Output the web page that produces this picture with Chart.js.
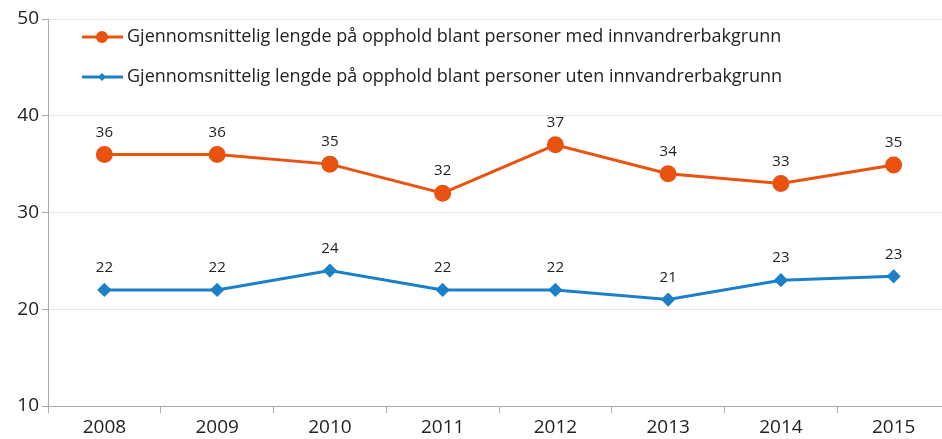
<!DOCTYPE html>
<html>
<head>
<meta charset="utf-8">
<script src="https://cdn.jsdelivr.net/npm/chart.js@4"></script>
<style>
  html, body { margin: 0; padding: 0; background: #fff; overflow: hidden; }
</style>
</head>
<body>
<canvas id="chart" width="960" height="439"></canvas>
<script>
const years = ["2008", "2009", "2010", "2011", "2012", "2013", "2014", "2015"];
const withBackground = [36, 36, 35, 32, 37, 34, 33, 34.9];
const withoutBackground = [22, 22, 24, 22, 22, 21, 23, 23.4];
const seriesNames = [
    "Gjennomsnittelig lengde på opphold blant personer med innvandrerbakgrunn",
    "Gjennomsnittelig lengde på opphold blant personer uten innvandrerbakgrunn"
];
const yTicks = [10, 20, 30, 40, 50];

const FONT = "'Open Sans', 'DejaVu Sans', sans-serif";

// value labels above each point
const pointLabels = {
    id: 'pointLabels',
    afterDatasetsDraw(chart) {
        const ctx = chart.ctx;
        ctx.save();
        ctx.font = "15px " + FONT;
        ctx.fillStyle = '#222';
        ctx.textAlign = 'center';
        ctx.textBaseline = 'middle';
        chart.data.datasets.forEach((ds, i) => {
            chart.getDatasetMeta(i).data.forEach((pt, j) => {
                ctx.fillText(Math.round(ds.data[j]), pt.x, pt.y - 22);
            });
        });
        ctx.restore();
    }
};

// legend drawn inside the plot area, top left
const innerLegend = {
    id: 'innerLegend',
    afterDraw(chart) {
        const ctx = chart.ctx;
        ctx.save();
        chart.data.datasets.forEach((ds, i) => {
            const y = 37 + i * 40;
            ctx.strokeStyle = ds.borderColor;
            ctx.lineWidth = 3;
            ctx.beginPath();
            ctx.moveTo(82, y);
            ctx.lineTo(123, y);
            ctx.stroke();
            ctx.fillStyle = ds.borderColor;
            if (i === 0) {
                ctx.beginPath();
                ctx.arc(102, y, 6, 0, Math.PI * 2);
                ctx.fill();
            } else {
                ctx.beginPath();
                ctx.moveTo(102, y - 4);
                ctx.lineTo(106, y);
                ctx.lineTo(102, y + 4);
                ctx.lineTo(98, y);
                ctx.closePath();
                ctx.fill();
            }
            ctx.fillStyle = '#222';
            ctx.font = "18px " + FONT;
            ctx.textAlign = 'left';
            ctx.textBaseline = 'middle';
            ctx.fillText(ds.label, 127, y);
        });
        ctx.restore();
    }
};

new Chart(document.getElementById('chart'), {
    type: 'line',
    data: {
        labels: years,
        datasets: [
            {
                label: seriesNames[0],
                data: withBackground,
                borderColor: '#e9520f',
                backgroundColor: '#e9520f',
                borderWidth: 3,
                pointStyle: 'circle',
                pointRadius: 7,
                pointHoverRadius: 7
            },
            {
                label: seriesNames[1],
                data: withoutBackground,
                borderColor: '#1b80c8',
                backgroundColor: '#1b80c8',
                borderWidth: 3,
                pointStyle: 'rectRot',
                pointRadius: 5,
                pointHoverRadius: 5
            }
        ]
    },
    options: {
        responsive: false,
        animation: false,
        layout: { padding: { top: 19, right: 2, left: 0, bottom: 0 } },
        plugins: {
            legend: { display: false },
            tooltip: { enabled: false }
        },
        scales: {
            x: {
                offset: true,
                grid: {
                    offset: true,
                    drawOnChartArea: false,
                    tickLength: 7,
                    color: '#aaa'
                },
                border: { color: '#aaa', width: 1 },
                ticks: {
                    color: '#222',
                    font: { size: 19, family: FONT },
                    padding: 3
                },
                afterFit(scale) { scale.height = 33; }
            },
            y: {
                min: 10,
                max: 50,
                afterBuildTicks(scale) {
                    scale.ticks = yTicks.map(v => ({ value: v }));
                },
                grid: {
                    color: '#e6e6e6',
                    tickLength: 6,
                    tickColor: '#aaa'
                },
                border: { color: '#aaa', width: 1 },
                ticks: {
                    color: '#222',
                    font: { size: 19, family: FONT },
                    padding: 3
                },
                afterFit(scale) { scale.width = 48; }
            }
        }
    },
    plugins: [pointLabels, innerLegend]
});
</script>
</body>
</html>
